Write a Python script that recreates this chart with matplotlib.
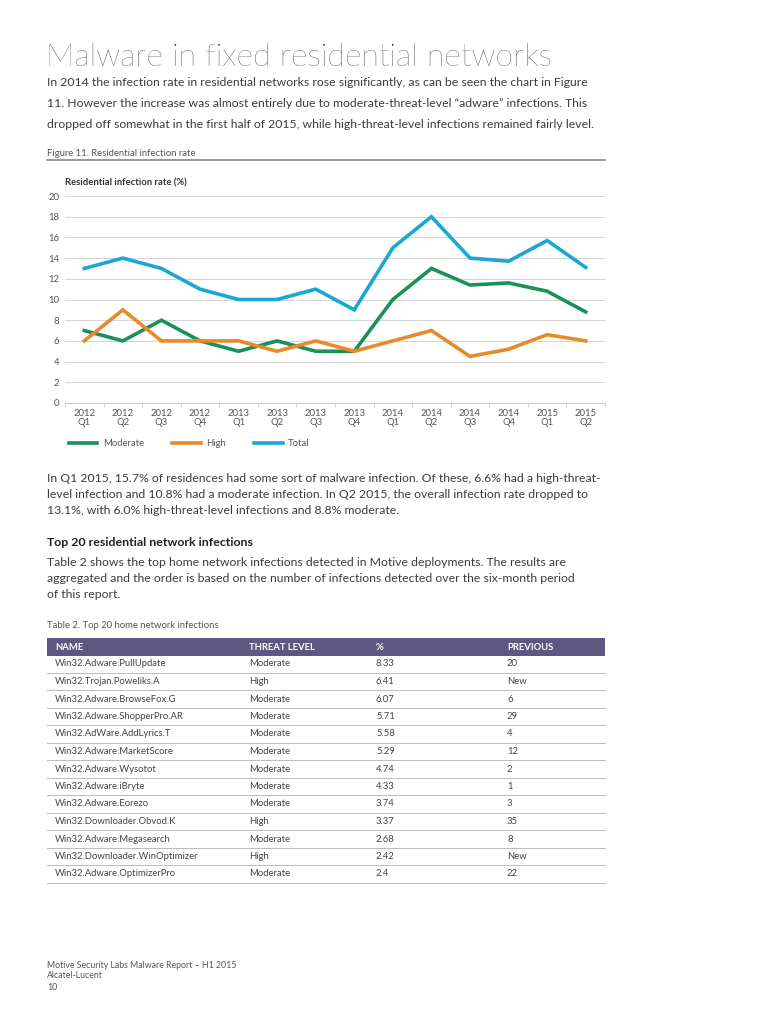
import numpy as np
import matplotlib
matplotlib.use("Agg")
import matplotlib.pyplot as plt
from matplotlib.patches import Rectangle
from matplotlib.lines import Line2D

# donnees du graphique
quarters = ["2012\nQ1", "2012\nQ2", "2012\nQ3", "2012\nQ4",
            "2013\nQ1", "2013\nQ2", "2013\nQ3", "2013\nQ4",
            "2014\nQ1", "2014\nQ2", "2014\nQ3", "2014\nQ4",
            "2015\nQ1", "2015\nQ2"]
moderate = [7, 6, 8, 6, 5, 6, 5, 5, 10, 13, 11.4, 11.6, 10.8, 8.8]
high = [6, 9, 6, 6, 6, 5, 6, 5, 6, 7, 4.5, 5.2, 6.6, 6.0]
total = [13, 14, 13, 11, 10, 10, 11, 9, 15, 18, 14, 13.7, 15.7, 13.1]

# donnees du tableau
table_cols = ["NAME", "THREAT LEVEL", "%", "PREVIOUS"]
names = ["Win32.Adware.PullUpdate", "Win32.Trojan.Poweliks.A", "Win32.Adware.BrowseFox.G",
         "Win32.Adware.ShopperPro.AR", "Win32.AdWare.AddLyrics.T", "Win32.Adware.MarketScore",
         "Win32.Adware.Wysotot", "Win32.Adware.iBryte", "Win32.Adware.Eorezo",
         "Win32.Downloader.Obvod.K", "Win32.Adware.Megasearch", "Win32.Downloader.WinOptimizer",
         "Win32.Adware.OptimizerPro"]
levels = ["Moderate", "High", "Moderate", "Moderate", "Moderate", "Moderate", "Moderate",
          "Moderate", "Moderate", "High", "Moderate", "High", "Moderate"]
pcts = ["8.33", "6.41", "6.07", "5.71", "5.58", "5.29", "4.74", "4.33", "3.74",
        "3.37", "2.68", "2.42", "2.4"]
previous = ["20", "New", "6", "29", "4", "12", "2", "1", "3", "35", "8", "New", "22"]

GREEN = "#1a9157"
ORANGE = "#e8892b"
BLUE = "#1aa8d3"
PURPLE = "#5e5782"
TXT = "#3c3c3c"
FONT = ["Lato", "DejaVu Sans"]

W, H = 768, 1024
plt.rcParams['font.family'] = FONT


def fx(x):
    return x / W


def fy(y):
    return 1 - y / H


fig = plt.figure(figsize=(W / 100, H / 100), dpi=100)
fig.patch.set_facecolor("white")

# titre et texte
fig.text(fx(46), fy(57), "Malware in fixed residential networks", fontsize=23.0,
         fontweight="light", color="#1e1e1e", va="center")
para1 = ["In 2014 the infection rate in residential networks rose significantly, as can be seen the chart in Figure",
         "11. However the increase was almost entirely due to moderate-threat-level \u201cadware\u201d infections. This",
         "dropped off somewhat in the first half of 2015, while high-threat-level infections remained fairly level."]
for i, l in enumerate(para1):
    fig.text(fx(47), fy(83 + i * 20.5), l, fontsize=8.8, color=TXT, va="center")

fig.text(fx(47), fy(154), "Figure 11. Residential infection rate", fontsize=6.8, color="#555555", va="center")
fig.add_artist(Line2D([fx(47), fx(605)], [fy(160), fy(160)], color="#888888", lw=1.2))
fig.text(fx(65), fy(183), "Residential infection rate (%)", fontsize=6.8, fontweight="bold",
         color="#333333", va="center")

# graphique
ax = fig.add_axes([fx(65), fy(403), fx(605) - fx(65), (403 - 196) / H])
x = np.arange(len(quarters))
ax.plot(x, moderate, color=GREEN, lw=2.6, label="Moderate", solid_joinstyle="miter")
ax.plot(x, high, color=ORANGE, lw=2.6, label="High", solid_joinstyle="miter")
ax.plot(x, total, color=BLUE, lw=2.6, label="Total", solid_joinstyle="miter")
ax.set_xlim(-0.5, len(quarters) - 0.5)
ax.set_ylim(0, 20)
ax.set_yticks(np.arange(0, 21, 2))
ax.set_xticks(x)
ax.set_xticklabels(quarters, fontsize=6.8, color="#555555", linespacing=1.05)
ax.set_xticks(np.arange(-0.5, len(quarters), 1), minor=True)
ax.tick_params(axis="x", which="major", length=0, pad=4)
ax.tick_params(axis="x", which="minor", length=3, color="#cccccc")
ax.tick_params(axis="y", length=0, labelsize=6.8, labelcolor="#555555", pad=4)
ax.grid(axis="y", color="#d5d5d5", lw=0.7)
ax.set_axisbelow(True)
for s in ["top", "right", "left"]:
    ax.spines[s].set_visible(False)
ax.spines["bottom"].set_color("#cccccc")
ax.legend(loc="center left", bbox_to_anchor=(0.0, -0.195), ncol=3, frameon=False,
          fontsize=6.8, handlelength=3.0, columnspacing=3.0, handletextpad=0.6,
          borderaxespad=0, labelcolor="#555555")

para2 = ["In Q1 2015, 15.7% of residences had some sort of malware infection. Of these, 6.6% had a high-threat-",
         "level infection and 10.8% had a moderate infection. In Q2 2015, the overall infection rate dropped to",
         "13.1%, with 6.0% high-threat-level infections and 8.8% moderate."]
for i, l in enumerate(para2):
    fig.text(fx(47), fy(478 + i * 16.2), l, fontsize=8.8, color=TXT, va="center")

fig.text(fx(47), fy(542), "Top 20 residential network infections", fontsize=8.9,
         fontweight="bold", color="#222222", va="center")
para3 = ["Table 2 shows the top home network infections detected in Motive deployments. The results are",
         "aggregated and the order is based on the number of infections detected over the six-month period",
         "of this report."]
for i, l in enumerate(para3):
    fig.text(fx(47), fy(562 + i * 16.2), l, fontsize=8.8, color=TXT, va="center")

# tableau
fig.text(fx(47), fy(625), "Table 2. Top 20 home network infections", fontsize=6.8, color="#555555", va="center")
col_x = [55, 249, 376, 507]
fig.add_artist(Rectangle((fx(47), fy(656)), fx(605) - fx(47), 18 / H, color=PURPLE, lw=0))
for cx, c in zip(col_x, table_cols):
    fig.text(fx(cx), fy(647), c, fontsize=6.8, fontweight="bold", color="white", va="center")
row_h = 17.5
for i in range(len(names)):
    yc = 664 + i * row_h
    for cx, v in zip(col_x, [names[i], levels[i], pcts[i], previous[i]]):
        fig.text(fx(cx), fy(yc), v, fontsize=6.8, color="#444444", va="center")
    yl = yc + row_h / 2
    fig.add_artist(Line2D([fx(47), fx(605)], [fy(yl), fy(yl)], color="#bbbbbb", lw=0.7))

# pied de page
foot = ["Motive Security Labs Malware Report \u2013 H1 2015", "Alcatel-Lucent", "10"]
for i, l in enumerate(foot):
    fig.text(fx(47), fy(965 + i * 11), l, fontsize=6.3, color="#555555", va="center")

fig.savefig("out.png", dpi=100)
